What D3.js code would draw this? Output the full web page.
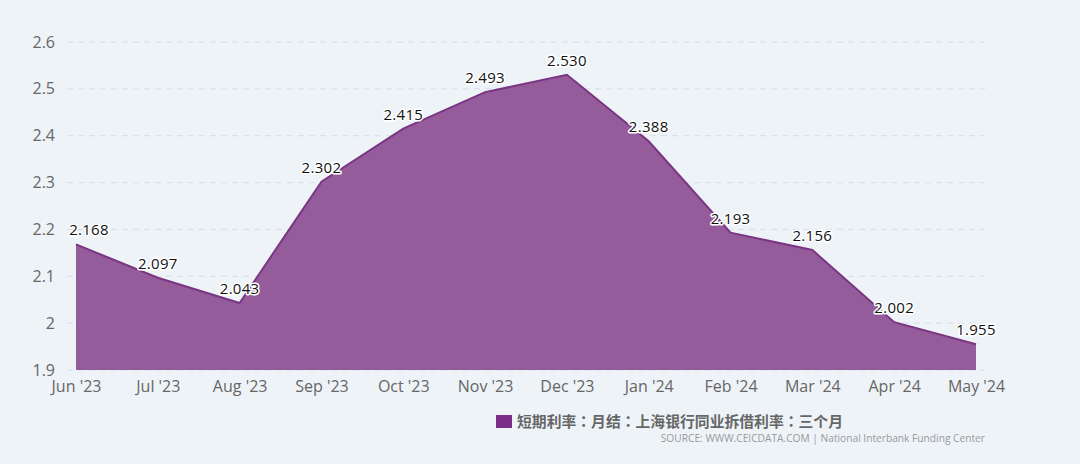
<!DOCTYPE html>
<html><head><meta charset="utf-8">
<script src="https://cdn.jsdelivr.net/npm/d3@7"></script>
<style>
html,body{margin:0;padding:0;background:#eef3f8;}
svg{display:block;font-family:"Open Sans","DejaVu Sans",sans-serif;}
</style></head><body>
<svg id="c" width="1080" height="464"></svg>
<script>
const categories = ["Jun '23","Jul '23","Aug '23","Sep '23","Oct '23","Nov '23","Dec '23","Jan '24","Feb '24","Mar '24","Apr '24","May '24"];
const values = [2.168,2.097,2.043,2.302,2.415,2.493,2.530,2.388,2.193,2.156,2.002,1.955];
const yTicks = [1.9,2.0,2.1,2.2,2.3,2.4,2.5,2.6];
const seriesName = "短期利率：月结：上海银行同业拆借利率：三个月";
const sourceText = "SOURCE: WWW.CEICDATA.COM | National Interbank Funding Center";

const svg = d3.select("#c");
svg.append("rect").attr("width",1080).attr("height",464).attr("fill","#eef3f8");
const x = d3.scalePoint().domain(categories).range([76,976]);
const y = d3.scaleLinear().domain([1.9,2.6]).range([370,42]);

const grid = svg.append("g");
grid.selectAll("line").data(yTicks).join("line")
  .attr("x1",67).attr("x2",985).attr("y1",d=>y(d)).attr("y2",d=>y(d))
  .attr("stroke","#d6dde6").attr("stroke-dasharray","6,5").attr("stroke-width",1);

const yAxis = svg.append("g").attr("transform","translate(67,0)")
  .call(d3.axisLeft(y).tickValues(yTicks).tickFormat(d=>d3.format("")(+d.toFixed(1))).tickSize(0).tickPadding(12));
yAxis.select(".domain").remove();
yAxis.selectAll("text").attr("fill","#666").attr("font-size",16).attr("font-family","'Open Sans',sans-serif");

const xAxis = svg.append("g").attr("transform","translate(0,370)")
  .call(d3.axisBottom(x).tickSize(0).tickPadding(11));
xAxis.select(".domain").remove();
xAxis.selectAll("text").attr("fill","#666").attr("font-size",16).attr("font-family","'Open Sans',sans-serif");

const area = d3.area().x((d,i)=>x(categories[i])).y0(y(1.9)).y1(d=>y(d));
const line = d3.line().x((d,i)=>x(categories[i])).y(d=>y(d));
svg.append("path").datum(values).attr("d",area).attr("fill","#955c9c");
svg.append("path").datum(values).attr("d",line).attr("fill","none").attr("stroke","#7a3583").attr("stroke-width",2);

const lbl = svg.append("g");
lbl.selectAll("text").data(values).join("text")
  .attr("x",(d,i)=>Math.max(x(categories[i]),89)).attr("y",d=>y(d)-9)
  .attr("text-anchor","middle").attr("font-size",15).attr("fill","#111")
  .attr("stroke","#fff").attr("stroke-width",3).attr("stroke-linejoin","round").attr("paint-order","stroke")
  .attr("font-family","'Open Sans',sans-serif").attr("letter-spacing",0.3)
  .text(d=>d3.format(".3f")(d));

svg.append("rect").attr("x",496).attr("y",415).attr("width",16).attr("height",13).attr("fill","#7b2d87");
svg.append("text").attr("x",517).attr("y",427).attr("font-size",14.5).attr("font-weight","bold").attr("fill","#666")
  .attr("font-family","'Noto Sans CJK TC','Noto Sans CJK SC',sans-serif").attr("textLength",326).attr("lengthAdjust","spacingAndGlyphs").text(seriesName);
svg.append("text").attr("x",985).attr("y",442).attr("text-anchor","end").attr("font-size",10.2).attr("fill","#999")
  .attr("font-family","'Open Sans',sans-serif").text(sourceText);
</script>
</body></html>
